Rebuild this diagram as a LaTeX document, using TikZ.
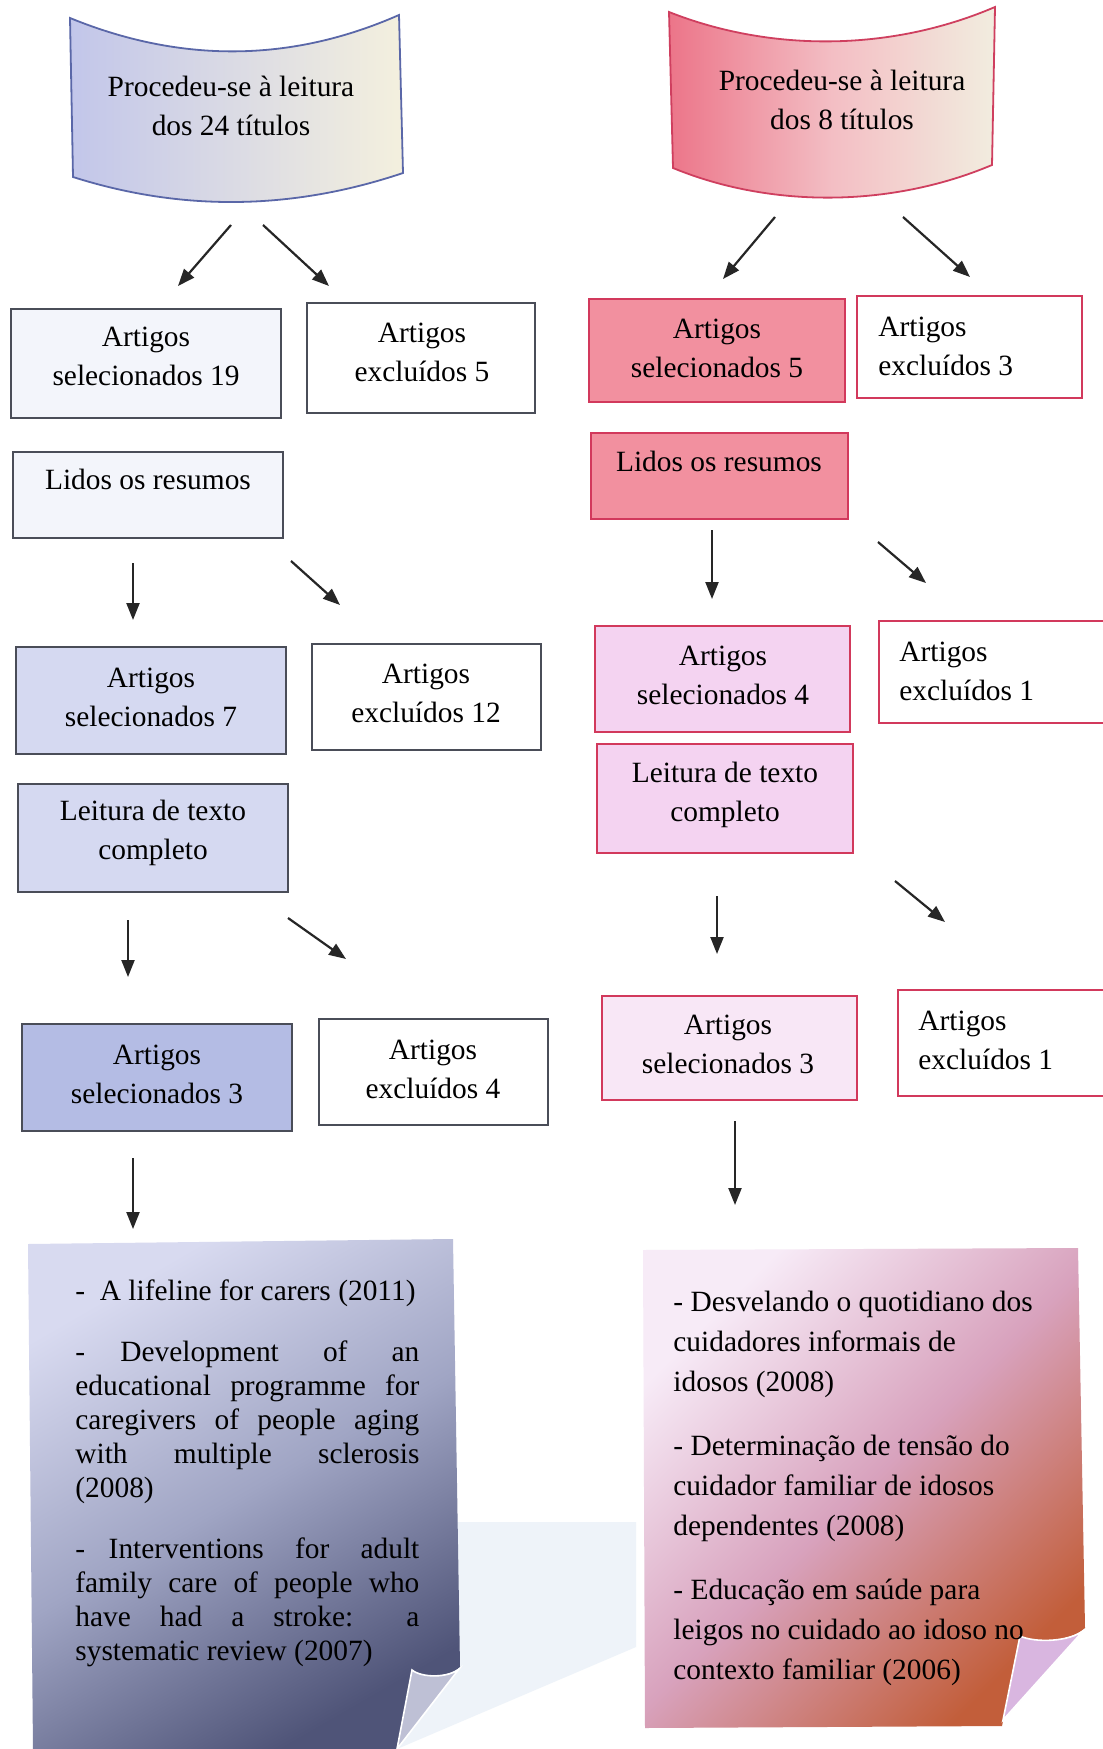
\documentclass[tikz,border=0pt]{standalone}
\usepackage{fontspec}
\setmainfont{Liberation Serif}
\usetikzlibrary{arrows.meta,fit}
\definecolor{borderL}{HTML}{4A4D58}
\definecolor{borderR}{HTML}{D2395C}
\definecolor{lavC}{HTML}{F3F5FB}
\definecolor{lavA}{HTML}{D5D9F1}
\definecolor{lavB}{HTML}{B4BCE4}
\definecolor{pinkA}{HTML}{F2909F}
\definecolor{pinkB}{HTML}{F4D3F1}
\definecolor{pinkC}{HTML}{F8E7F6}
\definecolor{banLa}{HTML}{C2C6EA}
\definecolor{banLb}{HTML}{F4F0DE}
\definecolor{banLd}{HTML}{5A67A8}
\definecolor{banRa}{HTML}{EC7589}
\definecolor{banRm}{HTML}{F3BEC4}
\definecolor{banRb}{HTML}{F2EDDF}
\definecolor{banRd}{HTML}{CF3F5F}
\definecolor{papLa}{HTML}{D8DAF0}
\definecolor{papLm}{HTML}{A0A5C4}
\definecolor{papLb}{HTML}{4F5478}
\definecolor{papRa}{HTML}{F7EBF7}
\definecolor{papRm}{HTML}{D8A2BD}
\definecolor{papRb}{HTML}{C25E3A}
\definecolor{flapL}{HTML}{BEC0D5}
\definecolor{flapR}{HTML}{D9B6E0}
\definecolor{shadowB}{HTML}{EEF3F9}
\begin{document}
\begin{tikzpicture}[x=0.5pt,y=-0.5pt,
  box/.style={draw, line width=0.8pt, inner sep=0pt},
  lbox/.style={box, draw=borderL},
  rbox/.style={box, draw=borderR},
  txt/.style={font=\fontsize{14.7pt}{19.5pt}\selectfont, align=center, inner sep=0pt, text=black},
  ltxt/.style={txt, align=left, anchor=west},
  arr/.style={line width=1.1pt, draw=black!85, -{Triangle[length=8.5pt,width=6.5pt]}},
]
\useasboundingbox (0,0) rectangle (1102,1749);
\fill[white] (0,0) rectangle (1102,1749);

% ---------- banners ----------
\shadedraw[left color=banLa, right color=banLb, draw=banLd, line width=0.9pt]
  (70,18) .. controls (180,63) and (290,63) .. (399,15) -- (403,173)
  .. controls (290,211) and (180,211) .. (73,177) -- cycle;
\node[txt] (banL) at (231,106) {Procedeu-se à leitura\\dos 24 títulos};

\shadedraw[left color=banRa, right color=banRb, middle color=banRm, draw=banRd, line width=0.9pt]
  (669,12) .. controls (770,52) and (890,52) .. (995,7) -- (992,165)
  .. controls (890,208) and (770,208) .. (673,168) -- cycle;
\node[txt] (banR) at (842,100) {Procedeu-se à leitura\\dos 8 títulos};

% ---------- left column ----------
\node[lbox, fill=lavC, fit={(11,309) (281,418)}] (sel19) {};
\node[txt] (sel19t) at (146,356) {Artigos\\selecionados 19};
\node[lbox, fill=white, fit={(307,303) (535,413)}] (exc5) {};
\node[txt] (exc5t) at (422,352) {Artigos\\excluídos 5};
\node[lbox, fill=lavC, fit={(13,452) (283,538)}] (lidL) {};
\node[txt] (lidLt) at (148,479) {Lidos os resumos};
\node[lbox, fill=lavA, fit={(16,647) (286,754)}] (sel7) {};
\node[txt] (sel7t) at (151,697) {Artigos\\selecionados 7};
\node[lbox, fill=white, fit={(312,644) (541,750)}] (exc12) {};
\node[txt] (exc12t) at (426,693) {Artigos\\excluídos 12};
\node[lbox, fill=lavA, fit={(18,784) (288,892)}] (leiL) {};
\node[txt] (leiLt) at (153,833) {Leitura de texto\\completo};
\node[lbox, fill=lavB, fit={(22,1024) (292,1131)}] (sel3L) {};
\node[txt] (sel3Lt) at (157,1074) {Artigos\\selecionados 3};
\node[lbox, fill=white, fit={(319,1019) (548,1125)}] (exc4) {};
\node[txt] (exc4t) at (433,1069) {Artigos\\excluídos 4};

% ---------- right column ----------
\node[rbox, fill=pinkA, fit={(589,299) (845,402)}] (sel5) {};
\node[txt] (sel5t) at (717,348) {Artigos\\selecionados 5};
\node[rbox, fill=white, fit={(857,296) (1082,398)}] (exc3) {};
\node[ltxt] (exc3t) at (878,346) {Artigos\\excluídos 3};
\node[rbox, fill=pinkA, fit={(591,433) (848,519)}] (lidR) {};
\node[txt] (lidRt) at (719,461) {Lidos os resumos};
\node[rbox, fill=pinkB, fit={(595,626) (850,732)}] (sel4) {};
\node[txt] (sel4t) at (723,675) {Artigos\\selecionados 4};
\node[rbox, fill=white, fit={(879,621) (1106,723)}] (exc1a) {};
\node[ltxt] (exc1at) at (899,671) {Artigos\\excluídos 1};
\node[rbox, fill=pinkB, fit={(597,744) (853,853)}] (leiR) {};
\node[txt] (leiRt) at (725,795) {Leitura de texto\\completo};
\node[rbox, fill=pinkC, fit={(602,996) (857,1100)}] (sel3R) {};
\node[txt] (sel3Rt) at (728,1044) {Artigos\\selecionados 3};
\node[rbox, fill=white, fit={(898,990) (1106,1096)}] (exc1b) {};
\node[ltxt] (exc1bt) at (918,1040) {Artigos\\excluídos 1};

% ---------- arrows ----------
\coordinate (l1s) at (231,225); \coordinate (l1e) at (178,286);
\coordinate (l2s) at (263,225); \coordinate (l2e) at (329,286);
\coordinate (l3s) at (133,563); \coordinate (l3e) at (133,620);
\coordinate (l4s) at (291,561); \coordinate (l4e) at (340,605);
\coordinate (l5s) at (128,920); \coordinate (l5e) at (128,977);
\coordinate (l6s) at (288,918); \coordinate (l6e) at (346,959);
\coordinate (l7s) at (133,1158); \coordinate (l7e) at (133,1229);
\coordinate (r1s) at (775,217); \coordinate (r1e) at (723,279);
\coordinate (r2s) at (903,217); \coordinate (r2e) at (970,277);
\coordinate (r3s) at (712,530); \coordinate (r3e) at (712,599);
\coordinate (r4s) at (878,542); \coordinate (r4e) at (926,583);
\coordinate (r5s) at (717,896); \coordinate (r5e) at (717,954);
\coordinate (r6s) at (895,881); \coordinate (r6e) at (945,922);
\coordinate (r7s) at (735,1121); \coordinate (r7e) at (735,1205);
\foreach \a in {l1,l2,l3,l4,l5,l6,l7,r1,r2,r3,r4,r5,r6,r7}
  \draw[arr] (\a s) -- (\a e);

% ---------- papers ----------
\fill[shadowB] (300,1522) -- (636,1522) -- (636,1647) -- (397,1749) -- (300,1749) -- cycle;

\shade[top color=papLa, bottom color=papLb, middle color=papLm, shading angle=30]
  (28,1244) -- (453,1239) -- (460,1667) .. controls (448,1678) and (422,1678) .. (412,1670)
  -- (397,1749) -- (33,1749) -- cycle;
\filldraw[fill=flapL, draw=white, line width=0.8pt]
  (412,1670) .. controls (422,1678) and (448,1678) .. (459,1669) -- (397,1749) -- cycle;

\shade[top color=papRa, bottom color=papRb, middle color=papRm, shading angle=45]
  (643,1250) -- (1078,1248) -- (1085,1628) .. controls (1070,1642) and (1035,1643) .. (1020,1636)
  -- (1002,1726) -- (645,1728) -- cycle;
\filldraw[fill=flapR, draw=white, line width=0.8pt]
  (1020,1636) .. controls (1035,1643) and (1070,1642) .. (1084,1630) -- (1003,1720) -- cycle;

\node[anchor=north west, inner sep=0pt, text width=172pt, align=justify,
      font=\fontsize{14.7pt}{16.9pt}\selectfont, text=black] (papLt) at (75,1279)
 {\setlength{\parindent}{0pt}-~~A lifeline for carers (2011)\par\vspace{14pt}
  -\hspace{1.2em}Development of an\linebreak educational programme for\linebreak caregivers of people aging\linebreak with multiple sclerosis\linebreak (2008)\par\vspace{14pt}
  -\hspace{0.8em}Interventions for adult\linebreak family care of people who\linebreak have had a stroke: a\linebreak systematic review (2007)};

\node[anchor=north west, inner sep=0pt, align=left,
      font=\fontsize{14.7pt}{20pt}\selectfont, text=black] (papRt) at (673,1291)
 {- Desvelando o quotidiano dos\\cuidadores informais de\\idosos (2008)\\[12pt]
  - Determinação de tensão do\\cuidador familiar de idosos\\dependentes (2008)\\[12pt]
  - Educação em saúde para\\leigos no cuidado ao idoso no\\contexto familiar (2006)};
\end{tikzpicture}
\end{document}
